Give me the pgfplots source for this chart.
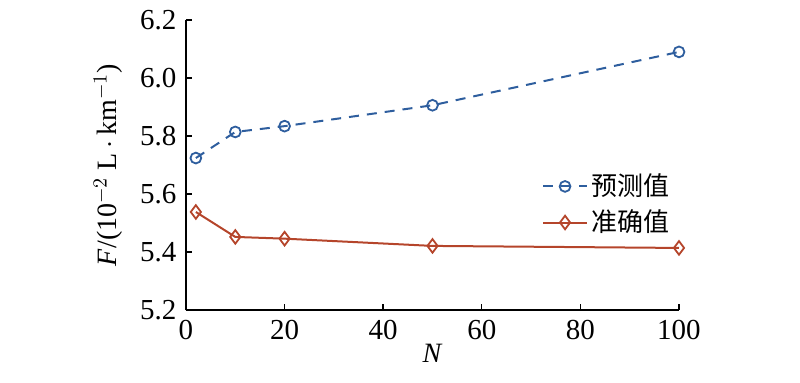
\documentclass[border=0pt]{standalone}
\usepackage{pgfplots}
\pgfplotsset{compat=1.18}
\usepackage{fontspec}
\setmainfont{Liberation Serif}
\newfontfamily\cjk{Noto Sans CJK SC}
\definecolor{predblue}{RGB}{46,94,158}
\definecolor{truered}{RGB}{181,69,43}
\begin{document}
\fontsize{14}{16}\selectfont
\begin{tikzpicture}
\path[use as bounding box] (-93pt,-36pt) rectangle (307pt,155pt);
\begin{axis}[
  scale only axis,
  width=246.5pt, height=145pt,
  at={(0,0)}, anchor=south west,
  xmin=0, xmax=100, ymin=5.2, ymax=6.2,
  xtick={0,20,40,60,80,100},
  ytick={5.2,5.4,5.6,5.8,6.0,6.2},
  yticklabel style={/pgf/number format/.cd, fixed, fixed zerofill, precision=1},
  axis x line*=bottom, axis y line*=left,
  axis line style={line width=0.7pt},
  tick align=inside,
  major tick length=3pt,
  tick style={line width=0.7pt, black},
  ticklabel style={font=\fontsize{14.5}{16}\selectfont},
  /pgf/number format/assume math mode=true,
  xlabel={\textit{N}},
  ylabel={\textit{F}/(10$^{-2}$ L\,$\cdot$\,km$^{-1}$)},
  label style={font=\fontsize{14}{16}\selectfont},
  xlabel style={yshift=7pt},
  ylabel style={yshift=-1pt},
  clip=false,
  legend style={draw=none, fill=none, at={(0.71,0.50)}, anchor=north west,
    font=\cjk\fontsize{13}{15}\selectfont, row sep=1pt,
    /tikz/every even column/.append style={column sep=0pt}},
  legend image code/.code={
    \draw[#1, mark repeat=2, mark phase=2] plot coordinates {(0cm,0cm) (0.38cm,0cm) (0.76cm,0cm)};},
  legend cell align=left,
]
\addplot[color=predblue, line width=1pt, dash pattern=on 5pt off 4pt,
  mark=o, mark size=2.7pt, mark options={solid, line width=0.9pt}]
  coordinates {(2,5.724) (10,5.814) (20,5.834) (50,5.906) (100,6.09)};
\addlegendentry{预测值}
\addplot[color=truered, line width=1pt,
  mark=diamond, mark size=3.4pt, mark options={solid, line width=0.9pt}]
  coordinates {(2,5.538) (10,5.452) (20,5.446) (50,5.421) (100,5.414)};
\addlegendentry{准确值}
\end{axis}
\end{tikzpicture}
\end{document}
